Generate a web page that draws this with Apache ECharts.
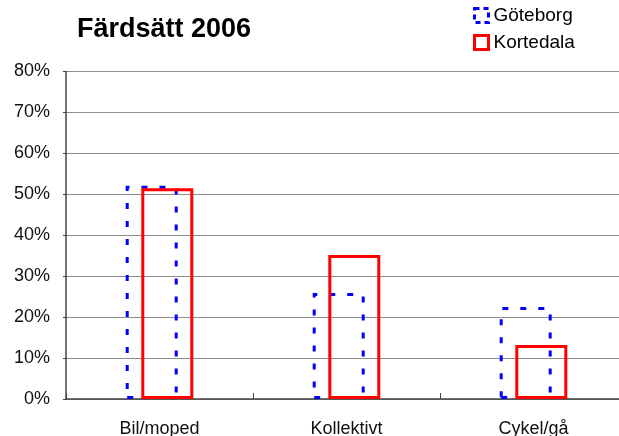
<!DOCTYPE html>
<html>
<head>
<meta charset="utf-8">
<script src="https://cdn.jsdelivr.net/npm/echarts@6/dist/echarts.min.js"></script>
<style>
  html, body { margin: 0; padding: 0; background: #fff; }
  #chart { width: 619px; height: 436px; }
</style>
</head>
<body>
<div id="chart"></div>
<script>
  // kategorier och värden (procent)
  var categories = ['Bil/moped', 'Kollektivt', 'Cykel/gå'];
  var goteborg = [52.1, 25.9, 22.5];
  var kortedala = [51.5, 35.2, 13.2];
  var yTicks = [0, 10, 20, 30, 40, 50, 60, 70, 80];

  var myChart = echarts.init(document.getElementById('chart'));

  var option = {
    backgroundColor: '#fff',
    animation: false,
    title: {
      text: 'Färdsätt 2006',
      left: 77,
      top: 16,
      padding: 0,
      textStyle: {
        fontFamily: 'Liberation Sans',
        fontWeight: 'bold',
        fontSize: 27,
        color: '#000'
      }
    },
    // legend uppe till höger
    legend: {
      orient: 'vertical',
      left: 473,
      top: 6,
      padding: 0,
      itemWidth: 14,
      itemHeight: 14,
      itemGap: 8,
      textStyle: {
        fontFamily: 'Liberation Sans',
        fontSize: 19,
        color: '#000'
      },
      data: [
        { name: 'Göteborg', icon: 'rect', itemStyle: { borderWidth: 3, borderType: [5, 4] } },
        { name: 'Kortedala', icon: 'rect', itemStyle: { borderWidth: 3 } }
      ]
    },
    grid: {
      left: 66,
      top: 71.5,
      width: 561,
      height: 327.5,
      outerBoundsMode: 'none',
      containLabel: false
    },
    xAxis: {
      type: 'category',
      data: categories,
      axisLine: { show: true, lineStyle: { color: '#444', width: 1.5 } },
      axisTick: { show: true, inside: true, length: 6, lineStyle: { color: '#444' } },
      axisLabel: {
        margin: 21,
        fontFamily: 'Liberation Sans',
        fontSize: 18,
        color: '#111'
      },
      splitLine: { show: false }
    },
    yAxis: {
      type: 'value',
      min: yTicks[0],
      max: yTicks[yTicks.length - 1],
      interval: 10,
      axisLine: { show: true, lineStyle: { color: '#444', width: 1.5 } },
      axisTick: { show: true, length: 3, lineStyle: { color: '#444' } },
      axisLabel: {
        margin: 16,
        fontFamily: 'Liberation Sans',
        fontSize: 18,
        color: '#111',
        formatter: '{value}%'
      },
      splitLine: { show: true, lineStyle: { color: '#8c8c8c', width: 1 } }
    },
    series: [
      {
        name: 'Göteborg',
        type: 'bar',
        data: goteborg,
        barWidth: 52,
        barGap: '-70%',
        itemStyle: {
          color: 'rgba(255,255,255,0)',
          borderColor: '#0000ff',
          borderWidth: 3,
          borderType: [6, 12]
        }
      },
      {
        name: 'Kortedala',
        type: 'bar',
        data: kortedala,
        barWidth: 52,
        itemStyle: {
          color: 'rgba(255,255,255,0)',
          borderColor: '#ff0000',
          borderWidth: 3
        }
      }
    ]
  };

  myChart.setOption(option);
</script>
</body>
</html>
